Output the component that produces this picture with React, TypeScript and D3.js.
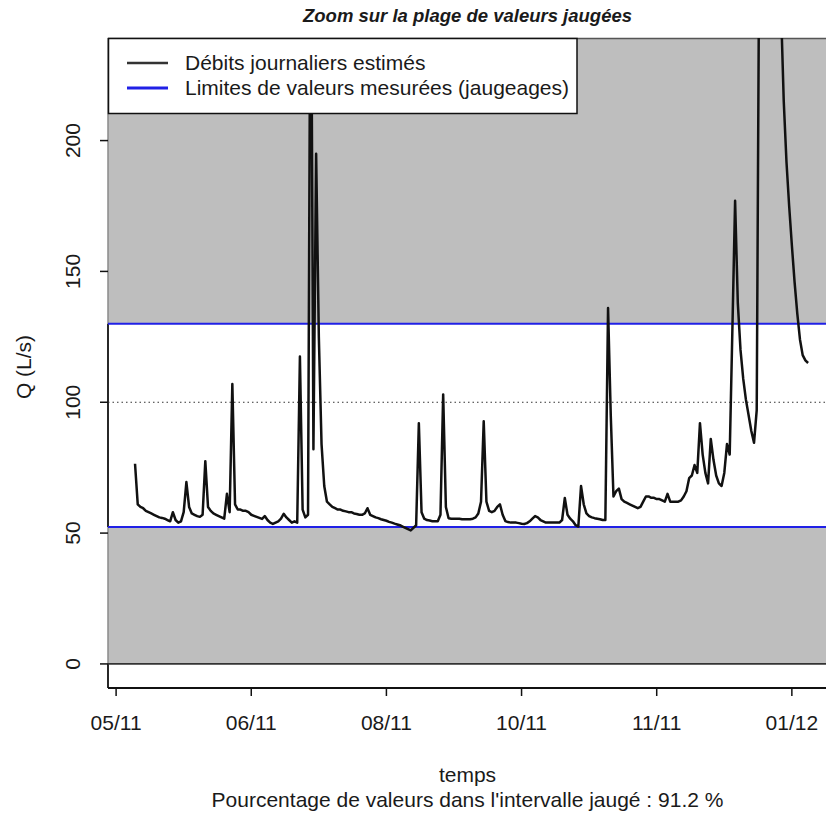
import React from 'react';
import * as d3 from 'd3';

// Daily estimated discharge (L/s), one value per day from SERIES_START
const SERIES_START = '2011-05-15';
const dailyFlow = [
  76.5, 61, 60, 59.5, 58.5, 58, 57.5, 57, 56.5, 56,
  55.8, 55.5, 55, 54.5, 58, 55, 54, 54.5, 58, 69.5,
  60, 57.5, 57, 56.5, 56.2, 57, 77.5, 60, 58.5, 57.5,
  57, 56.5, 56, 55.5, 65, 58, 107, 61, 59, 59,
  58.5, 58.5, 58, 57, 56.6, 56.2, 55.8, 55.4, 56.5, 55,
  54, 53.5, 54, 54.5, 55.5, 57.4, 56, 55, 54, 54.5,
  54, 117.5, 59, 56, 57, 300, 82, 195, 125, 84,
  68, 62, 61, 60, 59.5, 59, 59, 58.5, 58.3, 58,
  58, 57.5, 57.3, 57, 57, 57.5, 59.5, 57, 56.5, 56,
  55.7, 55.3, 55, 54.7, 54.3, 54, 53.6, 53.3, 53, 52.5,
  52, 51.5, 51, 52, 53, 92, 58, 55.5, 55, 54.8,
  54.5, 54.5, 54.5, 57, 103, 60, 55.7, 55.5, 55.5, 55.5,
  55.5, 55.3, 55.3, 55.3, 55.3, 55.5, 56, 57.5, 62, 92.7,
  62, 58.5, 58, 58.5, 60, 61, 57, 54.6, 54.2, 54,
  54, 54, 53.8, 53.6, 53.5, 53.8, 54.5, 55.5, 56.5, 56,
  55, 54.5, 54, 54, 54, 54, 54, 54, 55, 63.4,
  57, 55.5, 54.5, 53, 52.5, 68, 61, 57.5, 56.5, 56,
  55.7, 55.5, 55.3, 55, 55, 136, 95, 64, 66, 67,
  63, 62, 61.5, 61, 60.5, 60, 59.5, 60, 62, 64,
  64, 63.5, 63.5, 63, 63, 62.5, 62, 65, 62, 62,
  62, 62, 62.5, 64, 66, 71, 72, 76, 73, 92,
  80, 73, 69, 86, 78, 72, 69, 68, 73, 84,
  80, 128, 177, 138, 120, 109, 101, 95, 89, 84.5,
  97, 290, 390, 430, 410, 380, 345, 315, 285, 250,
  215, 192, 175, 160, 146, 134, 124, 118, 116, 115,
];

// Gauged range (lowest and highest measured discharge) and reference level
const GAUGED_MIN = 52.3;
const GAUGED_MAX = 130;
const REF_LEVEL = 100;

// Axes
const X_DOMAIN = ['2011-05-05', '2012-01-26'];
const X_TICKS = ['2011-05-08', '2011-06-27', '2011-08-16', '2011-10-05', '2011-11-24', '2012-01-13'];
const Y_DOMAIN = [-9.2, 239.2];
const Y_TICKS = [0, 50, 100, 150, 200];

// Texts
const TITLE = 'Zoom sur la plage de valeurs jaugées';
const X_LABEL = 'temps';
const Y_LABEL = 'Q (L/s)';
const SUBTITLE = "Pourcentage de valeurs dans l'intervalle jaugé : 91.2 %";
const LEGEND_LABELS = ['Débits journaliers estimés', 'Limites de valeurs mesurées (jaugeages)'];

const W = 826;
const H = 814;
const PLOT = { left: 108, top: 38, right: 827, bottom: 688 };
const FONT = '"Liberation Sans", Arial, Helvetica, sans-serif';
const TEXT = '#1a1a1a';
const BLUE = '#2020e6';
const FS = 21;

export default function App() {
  const parse = d3.utcParse('%Y-%m-%d');
  const fmt = d3.utcFormat('%m/%y');

  const x = d3
    .scaleUtc()
    .domain(X_DOMAIN.map((d) => parse(d) as Date))
    .range([PLOT.left, PLOT.right]);
  const y = d3.scaleLinear().domain(Y_DOMAIN).range([PLOT.bottom, PLOT.top]);

  const start = parse(SERIES_START) as Date;
  const points = dailyFlow.map((v, i) => ({ date: d3.utcDay.offset(start, i), value: v }));

  const line = d3
    .line<{ date: Date; value: number }>()
    .x((d) => x(d.date))
    .y((d) => y(d.value));

  const plotW = PLOT.right - PLOT.left;
  const midX = (PLOT.left + PLOT.right) / 2;
  const midY = (PLOT.top + PLOT.bottom) / 2;

  return (
    <svg
      width={W}
      height={H}
      viewBox={`0 0 ${W} ${H}`}
      style={{ position: 'absolute', left: 0, top: 0, background: '#fff', fontFamily: FONT }}
    >
      <defs>
        <clipPath id="plot-clip">
          <rect x={PLOT.left} y={PLOT.top} width={plotW} height={PLOT.bottom - PLOT.top} />
        </clipPath>
      </defs>
      <rect x={0} y={0} width={W} height={H} fill="#fff" />

      {/* out-of-range zone and gauged band */}
      <rect
        x={PLOT.left}
        y={PLOT.top}
        width={plotW}
        height={y(0) - PLOT.top}
        fill="#bebebe"
      />
      <rect
        x={PLOT.left}
        y={y(GAUGED_MAX)}
        width={plotW}
        height={y(GAUGED_MIN) - y(GAUGED_MAX)}
        fill="#fff"
      />
      <line x1={PLOT.left} x2={PLOT.right} y1={PLOT.top + 0.5} y2={PLOT.top + 0.5} stroke="#555" strokeWidth={1.5} />

      {/* axis lines (bty = "l") */}
      <line x1={PLOT.left} x2={PLOT.left} y1={PLOT.top} y2={y(GAUGED_MAX)} stroke="#8a8a8a" strokeWidth={1.5} />
      <line x1={PLOT.left} x2={PLOT.left} y1={y(GAUGED_MAX)} y2={y(GAUGED_MIN)} stroke="#111" strokeWidth={1.8} />
      <line x1={PLOT.left} x2={PLOT.left} y1={y(GAUGED_MIN)} y2={y(0)} stroke="#8a8a8a" strokeWidth={1.5} />
      <line x1={PLOT.left} x2={PLOT.left} y1={y(0)} y2={PLOT.bottom} stroke="#111" strokeWidth={1.8} />
      <line x1={PLOT.left} x2={PLOT.right} y1={PLOT.bottom} y2={PLOT.bottom} stroke="#111" strokeWidth={1.8} />

      {/* reference lines */}
      <line x1={PLOT.left} x2={PLOT.right} y1={y(REF_LEVEL)} y2={y(REF_LEVEL)} stroke="#333" strokeWidth={1} strokeDasharray="1.5 3" />
      <line x1={PLOT.left} x2={PLOT.right} y1={y(GAUGED_MAX)} y2={y(GAUGED_MAX)} stroke={BLUE} strokeWidth={2} />
      <line x1={PLOT.left} x2={PLOT.right} y1={y(GAUGED_MIN)} y2={y(GAUGED_MIN)} stroke={BLUE} strokeWidth={2} />
      <line x1={PLOT.left} x2={PLOT.right} y1={y(0)} y2={y(0)} stroke="#333" strokeWidth={1.8} />

      {/* discharge series */}
      <path
        d={line(points) ?? ''}
        fill="none"
        stroke="#111"
        strokeWidth={2.5}
        strokeLinejoin="round"
        clipPath="url(#plot-clip)"
      />

      {/* y axis */}
      {Y_TICKS.map((t) => (
        <g key={`y${t}`}>
          <line x1={PLOT.left - 8} x2={PLOT.left} y1={y(t)} y2={y(t)} stroke="#111" strokeWidth={1.5} />
          <text
            transform={`translate(80, ${y(t)}) rotate(-90)`}
            textAnchor="middle"
            fontSize={FS}
            fill={TEXT}
          >
            {t}
          </text>
        </g>
      ))}
      <text
        transform={`translate(31, ${midY + 4}) rotate(-90)`}
        textAnchor="middle"
        fontSize={FS}
        fill={TEXT}
      >
        {Y_LABEL}
      </text>

      {/* x axis */}
      {X_TICKS.map((s) => {
        const d = parse(s) as Date;
        const px = x(d);
        return (
          <g key={s}>
            <line x1={px} x2={px} y1={PLOT.bottom} y2={PLOT.bottom + 8} stroke="#111" strokeWidth={1.5} />
            <text x={px} y={730} textAnchor="middle" fontSize={FS} fill={TEXT}>
              {fmt(d)}
            </text>
          </g>
        );
      })}
      <text x={midX} y={782} textAnchor="middle" fontSize={FS} fill={TEXT}>
        {X_LABEL}
      </text>
      <text x={midX} y={807} textAnchor="middle" fontSize={FS} fill={TEXT}>
        {SUBTITLE}
      </text>

      {/* title */}
      <text x={midX} y={22} textAnchor="middle" fontSize={18.5} fontWeight="bold" fontStyle="italic" fill={TEXT}>
        {TITLE}
      </text>

      {/* legend */}
      <g>
        <rect x={108.5} y={38.5} width={468.5} height={75} fill="#fff" stroke="#111" strokeWidth={1.5} />
        <line x1={127} x2={168} y1={63} y2={63} stroke="#333" strokeWidth={2.5} />
        <line x1={127} x2={168} y1={88} y2={88} stroke={BLUE} strokeWidth={3} />
        <text x={185} y={63} dy="0.35em" fontSize={FS} fill={TEXT}>
          {LEGEND_LABELS[0]}
        </text>
        <text x={185} y={88} dy="0.35em" fontSize={FS} fill={TEXT}>
          {LEGEND_LABELS[1]}
        </text>
      </g>
    </svg>
  );
}
